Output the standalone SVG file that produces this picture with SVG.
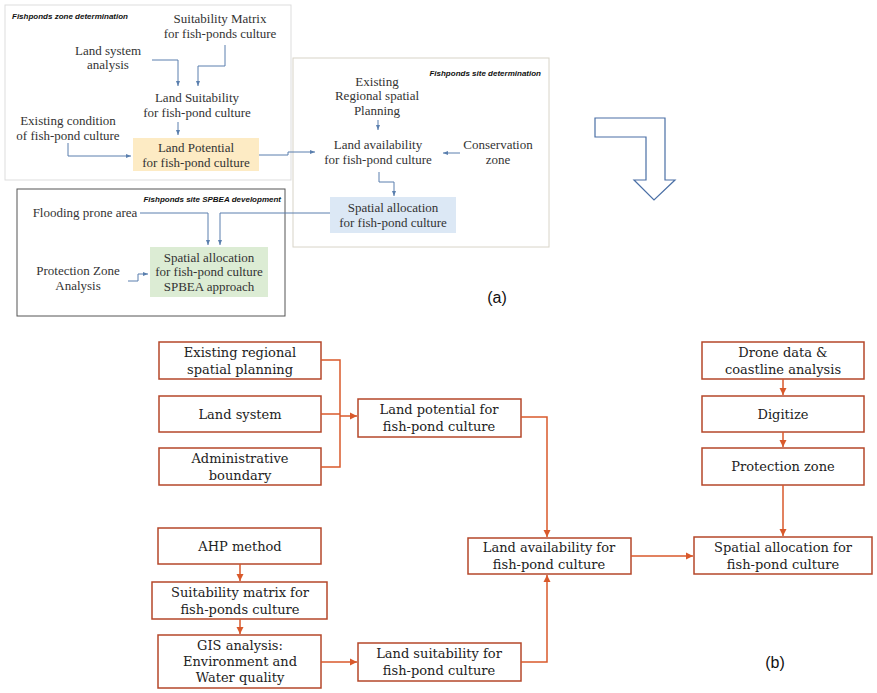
<svg xmlns="http://www.w3.org/2000/svg" width="877" height="693" viewBox="0 0 877 693">
<style>
.a{font-family:"Liberation Serif",serif;font-size:13px;fill:#333;text-anchor:middle}
.t{font-family:"Liberation Sans",sans-serif;font-size:8px;font-style:italic;font-weight:bold;fill:#111}
.b{font-family:"DejaVu Serif",serif;font-size:13px;fill:#222;text-anchor:middle}
.ln{fill:none;stroke:#5a7fae;stroke-width:1}
.lb{fill:none;stroke:#d9592b;stroke-width:1.5}
.bx{fill:#fff;stroke:#b5472a;stroke-width:1.5}
</style>
<defs>
<marker id="ma" markerWidth="6" markerHeight="6" refX="5" refY="3" orient="auto" markerUnits="userSpaceOnUse"><path d="M0,1 L5,3 L0,5z" fill="#5a7fae"/></marker>
<marker id="mb" markerWidth="8" markerHeight="8" refX="7" refY="4" orient="auto" markerUnits="userSpaceOnUse"><path d="M0,0.5 L7,4 L0,7.5z" fill="#d9592b"/></marker>
</defs>
<rect width="877" height="693" fill="#fff"/>
<g id="frames">
<rect x="5" y="5" width="286" height="175" fill="none" stroke="#ddd"/>
<rect x="293" y="58" width="256" height="189" fill="none" stroke="#d8d4c8"/>
<rect x="17" y="189" width="268" height="127" fill="none" stroke="#555"/>
<text class="t" x="12" y="19">Fishponds zone determination</text>
<text class="t" x="541" y="76" text-anchor="end">Fishponds site determination</text>
<text class="t" x="281" y="202" text-anchor="end">Fishponds site SPBEA development</text>
</g>
<g id="a-nodes">
<rect x="133" y="138" width="126" height="33" fill="#fdebc4"/>
<rect x="330" y="197" width="126" height="36" fill="#dce8f5"/>
<rect x="150" y="247" width="118" height="50" fill="#dcecd4"/>
<text class="a" x="220" y="23">Suitability Matrix</text><text class="a" x="220" y="38">for fish-ponds culture</text>
<text class="a" x="108" y="55">Land system</text><text class="a" x="108" y="69">analysis</text>
<text class="a" x="197" y="102">Land Suitability</text><text class="a" x="197" y="117">for fish-pond culture</text>
<text class="a" x="68" y="125">Existing condition</text><text class="a" x="68" y="140">of fish-pond culture</text>
<text class="a" x="196" y="152">Land Potential</text><text class="a" x="196" y="167">for fish-pond culture</text>
<text class="a" x="377" y="86">Existing</text><text class="a" x="377" y="100">Regional spatial</text><text class="a" x="377" y="115">Planning</text>
<text class="a" x="378" y="149">Land availability</text><text class="a" x="378" y="164">for fish-pond culture</text>
<text class="a" x="498" y="149">Conservation</text><text class="a" x="498" y="164">zone</text>
<text class="a" x="393" y="212">Spatial allocation</text><text class="a" x="393" y="227">for fish-pond culture</text>
<text class="a" x="85" y="217">Flooding prone area</text>
<text class="a" x="78" y="275">Protection Zone</text><text class="a" x="78" y="290">Analysis</text>
<text class="a" x="209" y="262">Spatial allocation</text><text class="a" x="209" y="276">for fish-pond culture</text><text class="a" x="209" y="291">SPBEA approach</text>
<text x="497" y="303" font-family="Liberation Sans,sans-serif" font-size="16" fill="#111" text-anchor="middle">(a)</text>
<polygon points="595,118 665,118 665,180 675,180 654,200 634,180 646,180 646,137 595,137" fill="#fff" stroke="#4a6fa5" stroke-width="1.2"/>
</g>
<g id="a-connectors" class="ln">
<path d="M152,60 H178 V86" marker-end="url(#ma)"/>
<path d="M225,45 V66 H198 V86" marker-end="url(#ma)"/>
<path d="M178,122 V135" marker-end="url(#ma)"/>
<path d="M68,143 V156 H131" marker-end="url(#ma)"/>
<path d="M259,155 H288 V152 H315" marker-end="url(#ma)"/>
<path d="M378,120 V130" marker-end="url(#ma)"/>
<path d="M460,153 H443" marker-end="url(#ma)"/>
<path d="M379,172 V182 H394 V196" marker-end="url(#ma)"/>
<path d="M140,213 H208 V245" marker-end="url(#ma)"/>
<path d="M330,213 H220 V245" marker-end="url(#ma)"/>
<path d="M128,281 H138 V274 H148" marker-end="url(#ma)"/>
</g>
<g id="b-nodes">
<rect class="bx" x="159" y="342" width="162" height="37"/><text class="b" x="240" y="357">Existing regional</text><text class="b" x="240" y="374">spatial planning</text>
<rect class="bx" x="159" y="396" width="162" height="36"/><text class="b" x="240" y="419">Land system</text>
<rect class="bx" x="159" y="448" width="162" height="37"/><text class="b" x="240" y="463">Administrative</text><text class="b" x="240" y="480">boundary</text>
<rect class="bx" x="358" y="399" width="163" height="38"/><text class="b" x="439" y="414">Land potential for</text><text class="b" x="439" y="431">fish-pond culture</text>
<rect class="bx" x="158" y="528" width="163" height="36"/><text class="b" x="240" y="551">AHP method</text>
<rect class="bx" x="152" y="582" width="175" height="37"/><text class="b" x="240" y="597">Suitability matrix for</text><text class="b" x="240" y="614">fish-ponds culture</text>
<rect class="bx" x="158" y="635" width="163" height="53"/><text class="b" x="240" y="650">GIS analysis:</text><text class="b" x="240" y="666">Environment and</text><text class="b" x="240" y="682">Water quality</text>
<rect class="bx" x="358" y="643" width="163" height="38"/><text class="b" x="439" y="658">Land suitability for</text><text class="b" x="439" y="675">fish-pond culture</text>
<rect class="bx" x="468" y="538" width="163" height="36"/><text class="b" x="549" y="552">Land availability for</text><text class="b" x="549" y="569">fish-pond culture</text>
<rect class="bx" x="694" y="537" width="178" height="37"/><text class="b" x="783" y="552">Spatial allocation for</text><text class="b" x="783" y="569">fish-pond culture</text>
<rect class="bx" x="702" y="342" width="162" height="37"/><text class="b" x="783" y="357">Drone data &amp;</text><text class="b" x="783" y="374">coastline analysis</text>
<rect class="bx" x="702" y="396" width="162" height="36"/><text class="b" x="783" y="419">Digitize</text>
<rect class="bx" x="702" y="448" width="162" height="37"/><text class="b" x="783" y="471">Protection zone</text>
<text x="775" y="668" font-family="Liberation Sans,sans-serif" font-size="16" fill="#111" text-anchor="middle">(b)</text>
</g>
<g id="b-connectors" class="lb">
<path d="M321,360 H340 V467 H321"/>
<path d="M321,414 H340"/>
<path d="M340,416 H357" marker-end="url(#mb)"/>
<path d="M521,417 H547 V537" marker-end="url(#mb)"/>
<path d="M240,564 V581" marker-end="url(#mb)"/>
<path d="M240,619 V634" marker-end="url(#mb)"/>
<path d="M321,662 H357" marker-end="url(#mb)"/>
<path d="M521,662 H547 V575" marker-end="url(#mb)"/>
<path d="M631,556 H693" marker-end="url(#mb)"/>
<path d="M783,379 V395" marker-end="url(#mb)"/>
<path d="M783,432 V447" marker-end="url(#mb)"/>
<path d="M783,485 V536" marker-end="url(#mb)"/>
</g>
</svg>
